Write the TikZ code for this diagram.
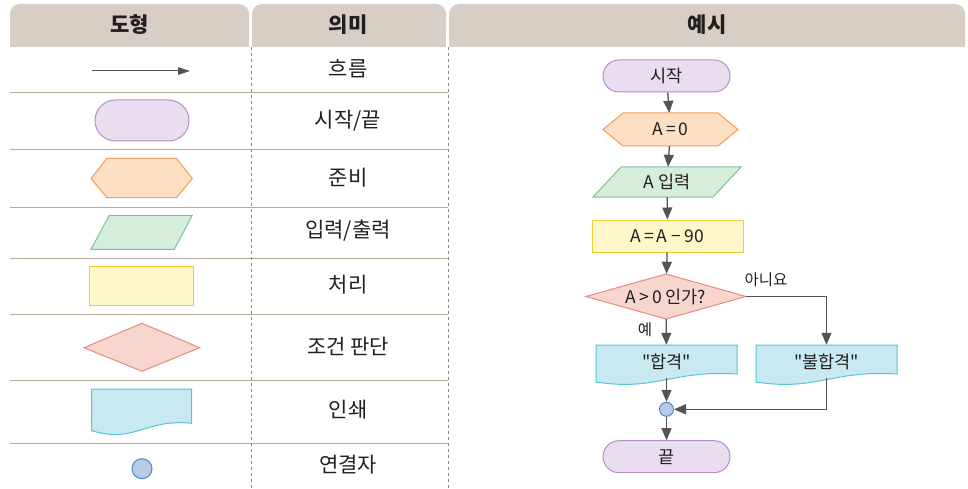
\documentclass[tikz,border=0pt]{standalone}
\usepackage{fontspec}
\setmainfont{Noto Sans CJK KR}[Ligatures=TeXOff]
\usetikzlibrary{arrows.meta,calc}
\definecolor{txt}{HTML}{231F20}
\definecolor{headf}{HTML}{D7CEC5}
\definecolor{rowl}{HTML}{B5A998}
\definecolor{dashl}{HTML}{8E8379}
\definecolor{linec}{HTML}{545456}
\definecolor{purf}{HTML}{E9DDF0}\definecolor{purd}{HTML}{B88DCB}
\definecolor{orf}{HTML}{FDDFC4}\definecolor{ord}{HTML}{F39B57}
\definecolor{grf}{HTML}{D7EDDB}\definecolor{grd}{HTML}{7DC593}
\definecolor{yef}{HTML}{FFF6C9}\definecolor{yed}{HTML}{F3CB3A}
\definecolor{ref}{HTML}{F7D6CE}\definecolor{red}{HTML}{EA8882}
\definecolor{cyf}{HTML}{C9E9F0}\definecolor{cyd}{HTML}{55C3D8}
\definecolor{blf}{HTML}{B8CBE8}\definecolor{bld}{HTML}{4B8ACB}
\newcommand{\docshape}[6]{%
  \filldraw[#1] (#2,#4) -- (#3,#4) -- (#3,#5) .. controls ({#3-0.47*(#3-#2)},{#5-0.14*(#5-#4)}) and ({#3-0.57*(#3-#2)},{#5+0.6*(#5-#4)}) .. (#2,#6) -- cycle;}
\newcommand{\dq}{\char34\relax}
\tikzset{
  headtxt/.style={font=\fontsize{21}{24}\selectfont\bfseries, text=txt, inner sep=0},
  lbl/.style={font=\fontsize{21}{24}\selectfont, text=txt, inner sep=0},
  ftxt/.style={font=\fontsize{17.5}{20}\selectfont, text=txt, inner sep=0},
  small/.style={font=\fontsize{15.5}{18}\selectfont, text=txt, inner sep=0},
  purs/.style={fill=purf, draw=purd, line width=1pt},
  ors/.style={fill=orf, draw=ord, line width=1pt},
  grs/.style={fill=grf, draw=grd, line width=1pt},
  yes/.style={fill=yef, draw=yed, line width=1pt},
  res/.style={fill=ref, draw=red, line width=1pt},
  cys/.style={fill=cyf, draw=cyd, line width=1pt},
  bls/.style={fill=blf, draw=bld, line width=1pt},
  flow/.style={draw=linec, line width=1.3pt, -{Triangle[length=12pt,width=10pt]}},
  rowline/.style={draw=rowl, line width=1pt},
}
\begin{document}
\begin{tikzpicture}[x=1pt,y=-1pt]
\useasboundingbox (0,0) rectangle (968,489);
% header tabs
\fill[headf, rounded corners=10pt] (10,4) rectangle (249,47);
\fill[headf] (10,30) rectangle (249,47);
\fill[headf, rounded corners=10pt] (252,4) rectangle (446,47);
\fill[headf] (252,30) rectangle (446,47);
\fill[headf, rounded corners=10pt] (449,4) rectangle (965,47);
\fill[headf] (449,30) rectangle (965,47);
\node[headtxt] (h1) at (129.5,25) {도형};
\node[headtxt] (h2) at (348,25) {의미};
\node[headtxt] (h3) at (707,25) {예시};
% table lines
\foreach \yy in {93,150,207,258,314,380,443} \draw[rowline] (10,\yy) -- (448,\yy);
\draw[dashl, line width=0.8pt, dash pattern=on 3pt off 3pt] (251,47) -- (251,489);
\draw[dashl, line width=0.8pt, dash pattern=on 3pt off 3pt] (448,47) -- (448,489);
% legend shapes
\coordinate (la1) at (92,71);
\coordinate (la2) at (190,71);
\draw[draw=linec, line width=1pt, -{Triangle[length=12pt,width=7.5pt]}] (la1) -- (la2);
\node[purs, rounded corners=20.5pt, minimum width=94, minimum height=41, inner sep=0] (lstart) at (142,120.5) {};
\filldraw[ors] (91,178.5) -- (107,158.3) -- (176.5,158.3) -- (192.3,178.5) -- (176.5,197.7) -- (107,197.7) -- cycle;
\filldraw[grs] (91,249.3) -- (109.3,215.3) -- (192.3,215.3) -- (174.3,249.3) -- cycle;
\node[yes, minimum width=104, minimum height=39, inner sep=0] (lproc) at (141.7,286.2) {};
\filldraw[res] (84,347.7) -- (142,323.3) -- (199.7,347.7) -- (142,371.3) -- cycle;
\docshape{cys}{91.7}{191.7}{389}{423.3}{430.7}
\node[bls, circle, minimum size=20, inner sep=0] (lcon) at (142,468.7) {};
% legend meanings
\node[lbl] (m1) at (348,69) {흐름};
\node[lbl] (m2) at (348,120.5) {시작/끝};
\node[lbl] (m3) at (348,177.5) {준비};
\node[lbl] (m4) at (348,231) {입력/출력};
\node[lbl] (m5) at (348,285) {처리};
\node[lbl] (m6) at (348,346.7) {조건 판단};
\node[lbl] (m7) at (348,410) {인쇄};
\node[lbl] (m8) at (348,465) {연결자};
% flowchart shapes
\node[purs, ftxt, rounded corners=16pt, minimum width=127, minimum height=32] (start) at (666.5,76) {시작};
\filldraw[ors] (603,129.5) -- (623,113) -- (718,113) -- (738,129.5) -- (718,146) -- (623,146) -- cycle;
\node[ftxt, minimum width=135, minimum height=33] (prep) at (670.5,129.5) {A\,=\,0};
\filldraw[grs] (593,197) -- (621,167) -- (741,167) -- (713,197) -- cycle;
\node[ftxt, minimum width=148, minimum height=30] (inp) at (667,182) {A 입력};
\node[yes, ftxt, minimum width=151, minimum height=32] (proc) at (667.5,236) {A\,=\,A\:−\:90};
\filldraw[res] (586,296.5) -- (666,274) -- (746,296.5) -- (666,319) -- cycle;
\node[ftxt, minimum width=160, minimum height=45] (dec) at (666,296.5) {A\,>\,0 인가?};
\docshape{cys}{596}{737}{345}{374}{382}
\node[ftxt, minimum width=141, minimum height=33] (d1) at (666.5,361.5) {\dq 합격\dq};
\docshape{cys}{756}{897}{345}{374}{382}
\node[ftxt, minimum width=141, minimum height=33] (d2) at (826.5,361.5) {\dq 불합격\dq};
\node[bls, circle, minimum size=14, inner sep=0] (con) at (666.5,409.3) {};
\node[purs, ftxt, rounded corners=16pt, minimum width=127, minimum height=32] (fin) at (666.5,456.7) {끝};
\node[small] (ye) at (645,330) {예};
\node[small] (no) at (766,280) {아니요};
% connectors
\draw[flow] (start) -- (prep);
\draw[flow] (prep) -- (inp);
\draw[flow] (inp) -- (proc);
\draw[flow] (proc) -- (dec);
\draw[flow] (dec) -- (d1);
\draw[flow] (dec.east) -| (d2.north);
\draw[flow] (d1) -- (con);
\draw[flow] (d2.south) |- (con.east);
\draw[flow] (con) -- (fin);
\end{tikzpicture}
\end{document}
